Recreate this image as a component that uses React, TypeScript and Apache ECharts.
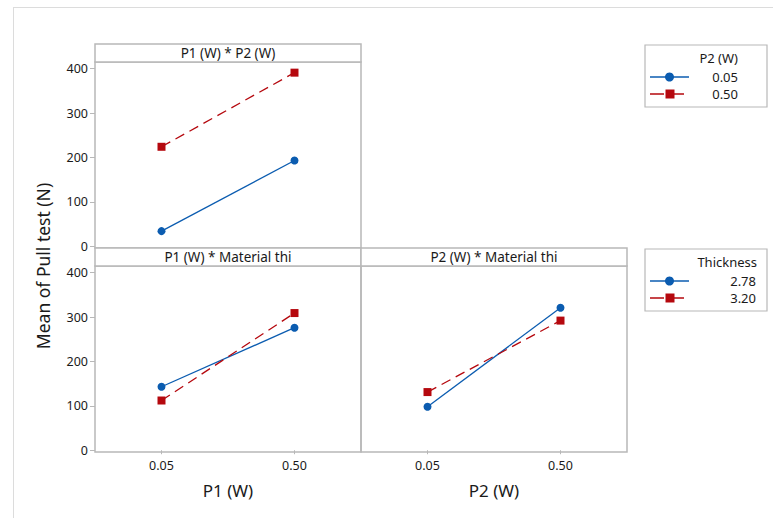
import React, { useEffect, useRef } from "react";
import * as echarts from "echarts";

const xCategories = ["0.05", "0.50"];
const yTicks = [0, 100, 200, 300, 400];

const panelTitles = ["P1 (W) * P2 (W)", "P1 (W) * Material thi", "P2 (W) * Material thi"];
const xTitles = ["P1 (W)", "P2 (W)"];
const yTitle = "Mean of Pull test (N)";

const legend1Title = "P2 (W)";
const legend1Labels = ["0.05", "0.50"];
const legend2Title = "Thickness";
const legend2Labels = ["2.78", "3.20"];

// P1 * P2 panel
const p1p2Low = [34, 193];
const p1p2High = [224, 391];
// P1 * Thickness panel
const p1ThinA = [143, 276];
const p1ThinB = [112, 309];
// P2 * Thickness panel
const p2ThinA = [98, 321];
const p2ThinB = [131, 292];

const BLUE = "#0b5cb0";
const RED = "#b5080e";
const BORDER = "#b8b8b8";
const TEXT = "#1a1a1a";
const FONT = "Noto Sans";

export default function App() {
  const ref = useRef<HTMLDivElement>(null);
  useEffect(() => {
    if (!ref.current) return;
    const chart = echarts.init(ref.current, null, { renderer: "svg" });

    const grids = [
      { left: 95, top: 62, width: 266, height: 186 },
      { left: 95, top: 266, width: 266, height: 186 },
      { left: 361, top: 266, width: 266, height: 186 },
    ];

    const xAxes = grids.map((g, i) => ({
      type: "category" as const,
      gridIndex: i,
      data: xCategories,
      boundaryGap: true,
      axisLine: { show: false },
      axisTick: {
        show: i > 0,
        alignWithLabel: true,
        length: 4,
        lineStyle: { color: BORDER, width: 1 },
      },
      axisLabel: {
        show: i > 0,
        color: TEXT,
        fontFamily: FONT,
        fontSize: 12.5,
        margin: 7,
      },
      name: i > 0 ? xTitles[i - 1] : "",
      nameLocation: "middle" as const,
      nameGap: 30,
      nameTextStyle: { color: TEXT, fontFamily: FONT, fontSize: 17 },
      splitLine: { show: false },
    }));

    const yAxes = grids.map((g, i) => ({
      type: "value" as const,
      gridIndex: i,
      min: -4,
      max: 415,
      axisLine: { show: false },
      axisTick: {
        show: i < 2,
        length: 5,
        customValues: yTicks,
        lineStyle: { color: BORDER, width: 1 },
      },
      axisLabel: {
        show: i < 2,
        customValues: yTicks,
        color: TEXT,
        fontFamily: FONT,
        fontSize: 12.5,
        margin: 7,
      },
      splitLine: { show: false },
    }));

    const mk = (name: string, data: number[], idx: number, blue: boolean) => ({
      type: "line" as const,
      name,
      xAxisIndex: idx,
      yAxisIndex: idx,
      data,
      symbol: blue ? "circle" : "rect",
      symbolSize: 8,
      lineStyle: {
        color: blue ? BLUE : RED,
        width: 1.3,
        type: blue ? ("solid" as const) : ([10, 6] as any),
      },
      itemStyle: { color: blue ? BLUE : RED },
      emphasis: { disabled: true },
    });

    const legendGroup = (
      x: number,
      y: number,
      title: string,
      titleRight: number,
      labels: string[],
      textRight: number
    ) => {
      const children: any[] = [
        {
          type: "rect",
          shape: { x: 0, y: 0, width: 122, height: 62 },
          style: { fill: "#fff", stroke: BORDER, lineWidth: 1.2 },
        },
        {
          type: "text",
          style: {
            text: title,
            x: titleRight,
            y: 13,
            align: "right",
            verticalAlign: "middle",
            fill: TEXT,
            font: `13px "${FONT}"`,
          },
        },
      ];
      labels.forEach((lab, k) => {
        const yy = 32 + k * 17;
        const blue = k === 0;
        children.push({
          type: "line",
          shape: { x1: 5, y1: yy, x2: blue ? 44 : 40, y2: yy },
          style: {
            stroke: blue ? BLUE : RED,
            lineWidth: 1.3,
            lineDash: blue ? null : [14, 6],
          },
        });
        if (blue) {
          children.push({
            type: "circle",
            shape: { cx: 24.5, cy: yy, r: 4.5 },
            style: { fill: BLUE },
          });
        } else {
          children.push({
            type: "rect",
            shape: { x: 20.5, y: yy - 4.5, width: 9, height: 9 },
            style: { fill: RED },
          });
        }
        children.push({
          type: "text",
          style: {
            text: lab,
            x: textRight,
            y: yy,
            align: "right",
            verticalAlign: "middle",
            fill: TEXT,
            font: `13px "${FONT}"`,
          },
        });
      });
      return { type: "group", x, y, children };
    };

    const headerStyle = { fill: "#fff", stroke: BORDER, lineWidth: 1.5 };
    const headerText = (text: string, cx: number, cy: number) => ({
      type: "text",
      style: {
        text,
        x: cx,
        y: cy,
        align: "center",
        verticalAlign: "middle",
        fill: TEXT,
        font: `13.5px "${FONT}"`,
      },
    });

    chart.setOption({
      animation: false,
      backgroundColor: "#fff",
      textStyle: { fontFamily: FONT },
      grid: grids.map((g) => ({
        ...g,
        show: true,
        borderColor: BORDER,
        borderWidth: 1.5,
        backgroundColor: "transparent",
        containLabel: false,
      })),
      xAxis: xAxes,
      yAxis: yAxes,
      series: [
        mk(legend1Labels[0], p1p2Low, 0, true),
        mk(legend1Labels[1], p1p2High, 0, false),
        mk(legend2Labels[0], p1ThinA, 1, true),
        mk(legend2Labels[1], p1ThinB, 1, false),
        mk(legend2Labels[0], p2ThinA, 2, true),
        mk(legend2Labels[1], p2ThinB, 2, false),
      ],
      graphic: [
        {
          type: "line",
          shape: { x1: 13, y1: 7.5, x2: 773, y2: 7.5 },
          style: { stroke: "#dcdcdc", lineWidth: 1 },
          silent: true,
        },
        {
          type: "line",
          shape: { x1: 13.5, y1: 7, x2: 13.5, y2: 518 },
          style: { stroke: "#dcdcdc", lineWidth: 1 },
          silent: true,
        },
        {
          type: "rect",
          shape: { x: 95, y: 44, width: 266, height: 18 },
          style: headerStyle,
        },
        headerText(panelTitles[0], 228, 53),
        {
          type: "rect",
          shape: { x: 95, y: 248, width: 266, height: 18 },
          style: headerStyle,
        },
        headerText(panelTitles[1], 228, 257),
        {
          type: "rect",
          shape: { x: 361, y: 248, width: 266, height: 18 },
          style: headerStyle,
        },
        headerText(panelTitles[2], 494, 257),
        {
          type: "text",
          x: 43,
          y: 266,
          rotation: Math.PI / 2,
          style: {
            text: yTitle,
            x: 0,
            y: 0,
            align: "center",
            verticalAlign: "middle",
            fill: TEXT,
            font: `17.5px "${FONT}"`,
          },
        },
        legendGroup(645, 45, legend1Title, 93, legend1Labels, 93),
        legendGroup(645, 249, legend2Title, 112, legend2Labels, 111),
      ],
    });

    return () => chart.dispose();
  }, []);

  return (
    <div
      ref={ref}
      style={{ position: "absolute", left: 0, top: 0, width: 773, height: 518 }}
    />
  );
}
